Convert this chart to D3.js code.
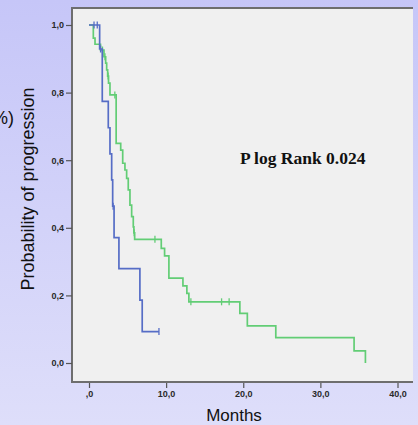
<!DOCTYPE html>
<html>
<head>
<meta charset="utf-8">
<script src="https://cdn.jsdelivr.net/npm/d3@7"></script>
<style>
  body { margin: 0; }
  svg { display: block; }
</style>
</head>
<body>
<svg id="chart" width="418" height="425"></svg>
<script>
// Kaplan-Meier curves (months, probability)
const blueTimes = [0, 1.38, 1.72, 2.50, 2.72, 2.94, 3.07, 3.25, 3.88, 6.60, 6.90, 9.07];
const blueSurv  = [1.0, 0.929, 0.774, 0.696, 0.619, 0.542, 0.464, 0.371, 0.279, 0.186, 0.093, 0.093];
const blueCensor = [0.65, 1.07, 1.50, 3.13, 9.07];

const greenTimes = [0, 0.56, 0.78, 1.49, 1.94, 2.16, 2.29, 2.42, 2.53, 2.72, 3.52, 4.11, 4.37, 4.66, 4.88,
  5.09, 5.31, 5.53, 5.74, 5.82, 5.92, 9.37, 9.80, 10.36, 12.18, 12.69, 12.95, 19.56, 20.53, 24.22, 34.37, 35.84];
const greenSurv  = [1.0, 0.961, 0.943, 0.926, 0.906, 0.887, 0.867, 0.849, 0.828, 0.793, 0.650, 0.630, 0.591, 0.571, 0.546,
  0.512, 0.467, 0.433, 0.403, 0.385, 0.366, 0.339, 0.317, 0.251, 0.228, 0.206, 0.181, 0.147, 0.110, 0.075, 0.036, 0.0];
const greenCensor = [1.75, 2.07, 2.48, 3.35, 5.86, 8.55, 13.21, 17.19, 18.17];

const xTicks = [0, 10, 20, 30, 40];
const yTicks = [0, 0.2, 0.4, 0.6, 0.8, 1.0];

var svg = d3.select("#chart");

// background gradient
var defs = svg.append("defs");
var grad = defs.append("linearGradient").attr("id", "bg").attr("x1", 0).attr("y1", 0).attr("x2", 0).attr("y2", 1);
grad.append("stop").attr("offset", "0%").attr("stop-color", "#c6c6f8");
grad.append("stop").attr("offset", "100%").attr("stop-color", "#dedefa");
svg.append("rect").attr("width", 418).attr("height", 425).attr("fill", "url(#bg)");

// plot area
var plot = { left: 72, top: 8, right: 413, bottom: 382 };
svg.append("rect")
  .attr("x", plot.left).attr("y", plot.top)
  .attr("width", plot.right - plot.left).attr("height", plot.bottom - plot.top)
  .attr("fill", "#f0f0f0");

var x = d3.scaleLinear().domain([0, 40]).range([89, 397.5]);
var y = d3.scaleLinear().domain([0, 1]).range([363, 25]);

// frame (top, left, bottom)
svg.append("path")
  .attr("d", "M" + plot.right + "," + plot.top + "H" + plot.left + "V" + plot.bottom + "H" + plot.right)
  .attr("fill", "none").attr("stroke", "#6e6e6e").attr("stroke-width", 2);

function commaFmt(d) {
  if (d === 0) return ",0";
  return d.toFixed(1).replace(".", ",");
}

// axes
var yAxis = svg.append("g")
  .attr("transform", "translate(" + plot.left + ",0)")
  .call(d3.axisLeft(y).tickValues(yTicks).tickSize(6).tickPadding(2)
    .tickFormat(d => d.toFixed(1).replace(".", ",")));
var xAxis = svg.append("g")
  .attr("transform", "translate(0," + (plot.bottom + 1) + ")")
  .call(d3.axisBottom(x).tickValues(xTicks).tickSize(5).tickPadding(3).tickFormat(commaFmt));

[yAxis, xAxis].forEach(function(a) {
  a.select(".domain").remove();
  a.selectAll("line").attr("stroke", "#555").attr("stroke-width", 1.2);
  a.selectAll("text").attr("font-family", "Arial, 'Liberation Sans', sans-serif")
    .attr("font-size", "9px").attr("font-weight", "bold").attr("fill", "#2a2a2a");
});

// step curves
var line = d3.line()
  .x(d => x(d[0]))
  .y(d => y(d[1]))
  .curve(d3.curveStepAfter);

function stepAt(times, surv, t) {
  var s = surv[0];
  for (var i = 0; i < times.length; i++) {
    if (times[i] <= t) s = surv[i];
  }
  return s;
}

function drawCurve(times, surv, censor, color) {
  var pts = times.map((t, i) => [t, surv[i]]);
  svg.append("path")
    .attr("d", line(pts))
    .attr("fill", "none")
    .attr("stroke", color)
    .attr("stroke-width", 1.7);
  svg.selectAll(null)
    .data(censor)
    .enter()
    .append("line")
    .attr("x1", d => x(d)).attr("x2", d => x(d))
    .attr("y1", d => y(stepAt(times, surv, d)) - 3.5)
    .attr("y2", d => y(stepAt(times, surv, d)) + 3.5)
    .attr("stroke", color)
    .attr("stroke-width", 1.3);
}

drawCurve(greenTimes, greenSurv, greenCensor, "#62cd75");
drawCurve(blueTimes, blueSurv, blueCensor, "#566dc6");

// labels
svg.append("text")
  .attr("x", 234).attr("y", 421)
  .attr("text-anchor", "middle")
  .attr("font-family", "Arial, 'Liberation Sans', sans-serif")
  .attr("font-size", "17px")
  .attr("fill", "#111")
  .text("Months");

svg.append("text")
  .attr("transform", "translate(34,189) rotate(-90)")
  .attr("text-anchor", "middle")
  .attr("font-family", "Arial, 'Liberation Sans', sans-serif")
  .attr("font-size", "18px")
  .attr("fill", "#111")
  .text("Probability of progression");

// partly clipped unit label at the left edge, as in the original
svg.append("text")
  .attr("x", 14).attr("y", 124)
  .attr("text-anchor", "end")
  .attr("font-family", "Arial, 'Liberation Sans', sans-serif")
  .attr("font-size", "18px")
  .attr("fill", "#111")
  .text("(%)");

svg.append("text")
  .attr("x", 240).attr("y", 164)
  .attr("font-family", "'Times New Roman', 'Liberation Serif', serif")
  .attr("font-weight", "bold")
  .attr("font-size", "17.5px")
  .attr("fill", "#111")
  .text("P log Rank 0.024");
</script>
</body>
</html>
